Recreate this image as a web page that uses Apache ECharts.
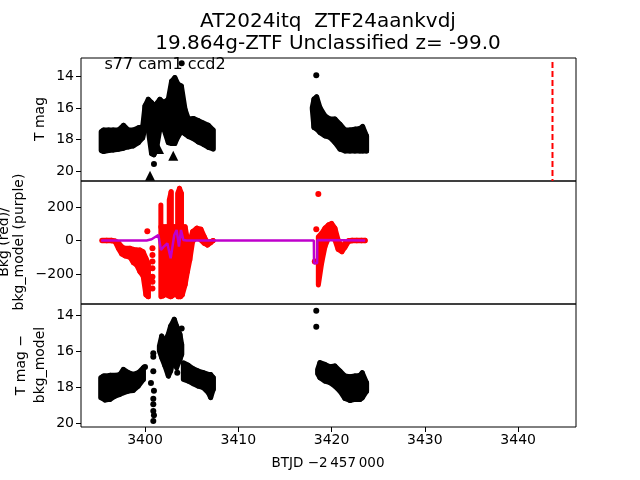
<!DOCTYPE html>
<html>
<head>
<meta charset="utf-8">
<style>
  html, body { margin: 0; padding: 0; background: #fff; }
  #chart { width: 640px; height: 480px; }
</style>
<script src="https://cdn.jsdelivr.net/npm/echarts@6/dist/echarts.min.js"></script>
</head>
<body>
<div id="chart"></div>
<script>
const xTicks = [3400, 3410, 3420, 3430, 3440]
const magTicks = [14, 16, 18, 20]
const bkgTicks = [-200, 0, 200]

// top panel: the points are too dense to read one by one, so each row is the
// bright / faint edge of the cloud at one time
const magTimeA = [3395.3, 3395.55, 3396.1, 3396.6, 3397.15, 3397.7, 3398.2, 3398.75, 3399.3, 3399.75, 3400.0, 3400.35, 3400.7, 3400.95, 3401.2, 3401.6, 3402.0, 3402.5, 3402.85, 3403.2, 3403.55, 3403.9, 3404.3, 3404.65, 3405.2, 3405.7, 3406.25, 3406.8, 3407.3]
const magTopA = [17.5, 17.4, 17.4, 17.4, 17.4, 17.1, 17.4, 17.4, 17.25, 17.2, 15.86, 15.45, 15.65, 15.86, 15.75, 15.45, 15.65, 15.45, 14.3, 14.07, 14.5, 14.6, 16.1, 16.7, 16.66, 16.8, 16.95, 17.1, 17.4]
const magLowA = [18.7, 18.76, 18.7, 18.67, 18.62, 18.55, 18.47, 18.4, 18.2, 17.9, 17.3, 17.4, 18.9, 18.97, 18.7, 17.3, 17.3, 18.2, 18.25, 18.25, 17.8, 17.5, 17.65, 17.8, 17.95, 18.15, 18.3, 18.5, 18.6]
const magTimeB = [3417.93, 3418.11, 3418.4, 3418.75, 3419.29, 3419.83, 3420.36, 3420.9, 3421.43, 3421.97, 3422.5, 3423.04, 3423.33, 3423.75]
const magTopB = [15.97, 15.44, 15.29, 15.97, 16.5, 16.7, 16.7, 17.03, 17.39, 17.39, 17.34, 17.3, 17.17, 17.77]
const magLowB = [16.07, 17.24, 17.34, 17.56, 17.77, 17.87, 18.19, 18.61, 18.72, 18.72, 18.72, 18.72, 18.72, 18.72]
const magDots = [[3403.93, 13.16], [3400.96, 19.55], [3418.36, 13.93]]
const magLimits = [[3400.54, 20.3], [3403.03, 19.03], [3401.5, 18.6]]
const discoveryTime = [3443.68, 3443.68]
const discoveryMag = [13.08, 20.63]

// middle panel
const bkgTimeA = [3395.36, 3395.9, 3396.4, 3396.8, 3397.15, 3397.5, 3397.85, 3398.4, 3398.75, 3399.1, 3399.45, 3399.8, 3400.1, 3400.35, 3401.7, 3401.95, 3402.25, 3402.5, 3402.75, 3402.95, 3403.15, 3403.4, 3403.55, 3403.8, 3404.0, 3404.3, 3404.55, 3404.8, 3405.1, 3405.55, 3406.0, 3406.35, 3406.7, 3407.05, 3407.3]
const bkgTopA = [1, 2, 1, -3, -13, -37, -47, -47, -53, -57, -57, -67, -106, -136, 82, 82, 82, 82, 82, 82, 82, 82, 82, 82, 82, 82, 3, -7, 53, 73, 67, 23, -13, -7, 0]
const bkgLowA = [-1, -2, -2, -7, -47, -80, -92, -100, -132, -146, -186, -212, -325, -335, -335, -330, -320, -330, -335, -330, -315, -325, -335, -335, -325, -265, -186, -117, -7, 23, 2, -17, -27, -13, -1]
const bkgTimeB = [3418.58, 3418.93, 3419.29, 3419.65, 3420.0, 3420.36, 3420.7, 3421.1, 3421.43, 3421.8, 3422.2, 3422.7, 3423.2, 3423.6]
const bkgTopB = [23, 43, 73, 93, 102, 73, 3, -37, -17, -1, 2, 2, 2, 1]
const bkgLowB = [-266, -136, -37, 13, 22, 3, -53, -67, -41, -7, -2, -2, -2, -1]
// the three red stripes that stand above the central block
const stripeTime = [3401.7, 3402.6, 3402.8, 3403.5, 3403.7, 3403.9]
const stripeTop = [212, 241, 291, 281, 311, 281]
const stripeLow = [80, 80, 80, 80, 80, 80]
const bkgDots = [[3400.25, 55], [3400.8, -47], [3400.8, -87], [3400.8, -126], [3400.8, -166], [3400.8, -216], [3400.8, -246], [3400.8, -286], [3418.58, 278], [3418.36, 67], [3418.2, -126]]
const modelTime = [3395.3, 3400.18, 3400.71, 3401.43, 3401.71, 3401.96, 3402.14, 3402.39, 3402.75, 3403.14, 3403.39, 3403.64, 3403.86, 3404.11, 3404.46, 3407.3, 3418.1, 3418.12, 3418.45, 3418.47, 3423.6]
const modelValue = [0, 0, 7, 33, -57, -40, -37, -17, -106, 33, 63, -37, 63, 3, 0, 0, 0, -136, -136, 3, 0]

// bottom panel
const subTimeA = [3395.25, 3395.54, 3395.71, 3396.25, 3396.79, 3397.32, 3397.68, 3398.21, 3398.75, 3399.29, 3399.82]
const subTopA = [17.47, 17.38, 17.38, 17.34, 17.34, 17.29, 17.01, 17.19, 17.29, 17.19, 16.91]
const subLowA = [18.59, 18.65, 18.72, 18.68, 18.5, 18.4, 18.31, 18.22, 18.18, 17.94, 17.57]
const subTimeB = [3401.54, 3401.79, 3402.14, 3402.5, 3402.75, 3403.14, 3403.39, 3403.75, 3403.93]
const subTopB = [15.7, 15.15, 15.42, 15.05, 14.59, 14.21, 14.59, 15.05, 15.61]
const subLowB = [15.98, 16.36, 16.82, 17.38, 17.1, 16.17, 16.91, 16.45, 16.17]
const subTimeC = [3404.11, 3404.64, 3405.18, 3405.71, 3406.25, 3406.79, 3407.04, 3407.32]
const subTopC = [16.63, 16.78, 16.97, 17.1, 17.19, 17.29, 17.29, 17.47]
const subLowC = [17.57, 17.66, 17.81, 17.94, 18.03, 18.31, 18.58, 18.12]
const subTimeD = [3418.5, 3418.75, 3419.29, 3419.83, 3420.36, 3420.9, 3421.43, 3421.97, 3422.5, 3423.04, 3423.29, 3423.75]
const subTopD = [17.01, 16.63, 16.73, 16.86, 16.82, 17.1, 17.38, 17.42, 17.38, 17.34, 17.19, 17.75]
const subLowD = [17.25, 17.47, 17.66, 17.75, 17.94, 18.22, 18.63, 18.74, 18.68, 18.68, 18.59, 18.22]
const subDots = [[3403.93, 14.73], [3403.46, 17.2], [3400.0, 16.87], [3400.64, 17.76], [3400.96, 18.2], [3400.89, 18.64], [3400.89, 18.95], [3400.89, 19.33], [3400.96, 19.57], [3400.89, 19.88], [3400.89, 16.1], [3400.89, 16.3], [3400.89, 17.11], [3418.36, 13.74], [3418.36, 14.63]]

const font = 'DejaVu Sans'
const chart = echarts.init(document.getElementById('chart'), null, { renderer: 'canvas' })

const rows = (t, a, b) => t.map((v, i) => [v, a[i], b[i]])

// cloud outline: each row joined to the next one, rounded by the stroke.
// rows further apart than maxGap stay separate so the white gaps survive
const band = (xAxisIndex, yAxisIndex, data, color, maxGap = 0.7) => ({
  type: 'custom',
  xAxisIndex,
  yAxisIndex,
  silent: true,
  clip: true,
  data,
  encode: { x: 0, y: [1, 2] },
  renderItem: (params, api) => {
    const i = params.dataIndex
    const cur = data[i]
    const next = data[i + 1] && data[i + 1][0] - cur[0] <= maxGap ? data[i + 1] : cur
    const points = [
      api.coord([cur[0], cur[1]]),
      api.coord([next[0], next[1]]),
      api.coord([next[0], next[2]]),
      api.coord([cur[0], cur[2]])
    ]
    return {
      type: 'polygon',
      shape: { points },
      style: { fill: color, stroke: color, lineWidth: 5, lineJoin: 'round' }
    }
  }
})

const dots = (xAxisIndex, yAxisIndex, data, color, symbol, size) => ({
  type: 'scatter',
  xAxisIndex,
  yAxisIndex,
  symbol,
  symbolSize: size,
  itemStyle: { color, opacity: 1 },
  data
})

const xAxis = (gridIndex, showTicks) => ({
  type: 'value',
  gridIndex,
  min: 3393.14,
  max: 3446.2,
  splitLine: { show: false },
  axisLine: { show: false },
  axisTick: { show: showTicks, customValues: xTicks, length: 5, lineStyle: { color: '#000', width: 1 } },
  axisLabel: {
    show: showTicks,
    customValues: xTicks,
    color: '#000',
    fontFamily: font,
    fontSize: 14,
    margin: 6,
    formatter: (v) => String(v)
  }
})

const yAxis = (gridIndex, min, max, ticks, inverse) => ({
  type: 'value',
  gridIndex,
  min,
  max,
  inverse,
  splitLine: { show: false },
  axisLine: { show: false },
  axisTick: { customValues: ticks, length: 5, lineStyle: { color: '#000', width: 1 } },
  axisLabel: {
    customValues: ticks,
    color: '#000',
    fontFamily: font,
    fontSize: 14,
    margin: 7,
    padding: [4, 0, 0, 0],
    formatter: (v) => String(v).replace('-', '\u2212')
  }
})

const grid = (top, height) => ({
  left: 81,
  width: 495,
  top,
  height,
  show: true,
  backgroundColor: 'transparent',
  borderColor: '#000',
  borderWidth: 1
})

const label = (text, x, y, fontSize, rotation) => ({
  type: 'text',
  x,
  y,
  rotation: rotation ? Math.PI / 2 : 0,
  style: { text, fill: '#000', font: fontSize + 'px "' + font + '"', align: 'center', verticalAlign: 'middle' }
})

chart.setOption({
  animation: false,
  backgroundColor: '#fff',
  grid: [grid(58, 123), grid(181, 123), grid(304, 123)],
  xAxis: [xAxis(0, false), xAxis(1, false), xAxis(2, true)],
  yAxis: [
    yAxis(0, 12.83, 20.63, magTicks, true),
    yAxis(1, -379, 355, bkgTicks, false),
    yAxis(2, 13.36, 20.22, magTicks, true)
  ],
  series: [
    band(0, 0, rows(magTimeA, magTopA, magLowA), '#000'),
    band(0, 0, rows(magTimeB, magTopB, magLowB), '#000'),
    dots(0, 0, magDots, '#000', 'circle', 6),
    dots(0, 0, magLimits, '#000', 'triangle', 10),
    {
      type: 'line',
      xAxisIndex: 0,
      yAxisIndex: 0,
      showSymbol: false,
      silent: true,
      lineStyle: { color: '#f00', width: 2, type: [6, 3] },
      data: discoveryTime.map((t, i) => [t, discoveryMag[i]])
    },
    band(1, 1, rows(bkgTimeA, bkgTopA, bkgLowA), '#f00'),
    band(1, 1, rows(bkgTimeB, bkgTopB, bkgLowB), '#f00'),
    band(1, 1, rows(stripeTime, stripeTop, stripeLow), '#f00', 0.25),
    dots(1, 1, bkgDots, '#f00', 'circle', 6),
    {
      type: 'line',
      xAxisIndex: 1,
      yAxisIndex: 1,
      showSymbol: false,
      silent: true,
      lineStyle: { color: '#bf00cc', width: 2.5 },
      data: modelTime.map((t, i) => [t, modelValue[i]])
    },
    band(2, 2, rows(subTimeA, subTopA, subLowA), '#000'),
    band(2, 2, rows(subTimeB, subTopB, subLowB), '#000'),
    band(2, 2, rows(subTimeC, subTopC, subLowC), '#000'),
    band(2, 2, rows(subTimeD, subTopD, subLowD), '#000'),
    dots(2, 2, subDots, '#000', 'circle', 6)
  ],
  graphic: [
    label('AT2024itq  ZTF24aankvdj', 328, 22, 20),
    label('19.864g-ZTF Unclassified z= -99.0', 328, 44, 20),
    label('s77 cam1 ccd2', 165, 65, 16),
    label('T mag', 40, 119, 14, true),
    label('Bkg (red)/', 4, 242, 14, true),
    label('bkg_model (purple)', 19, 242, 14, true),
    label('T mag \u2212', 21, 365, 14, true),
    label('bkg_model', 40, 365, 14, true),
    label('BTJD \u22122\u2009457\u2009000', 328, 463, 13.5)
  ]
})
</script>
</body>
</html>
